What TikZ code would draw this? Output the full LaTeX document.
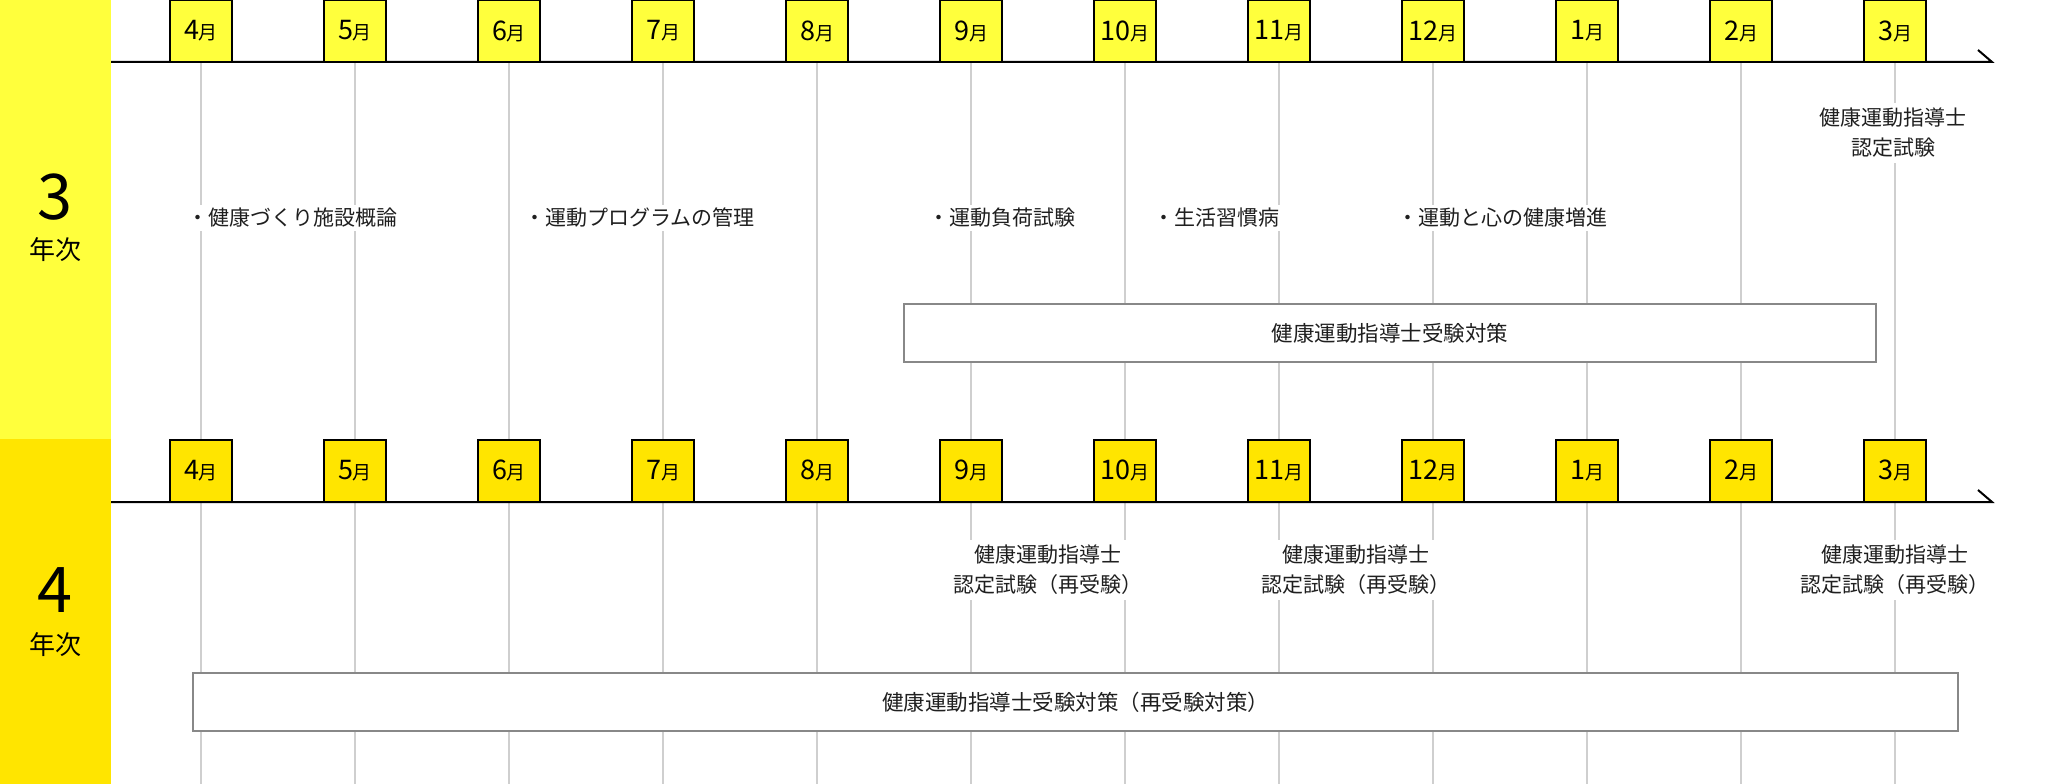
\documentclass[tikz,border=0pt]{standalone}
\usepackage{fontspec}
\setmainfont{Noto Sans CJK JP}
\definecolor{yelA}{HTML}{FFFF3C}
\definecolor{yelB}{HTML}{FFE500}
\definecolor{gridc}{HTML}{CFCFCF}
\definecolor{boxc}{HTML}{888888}
\tikzset{
  monthbox/.style={draw=black, line width=2pt, minimum width=62pt, minimum height=62pt, inner sep=0pt},
  axisline/.style={line width=2pt, black},
  gridline/.style={gridc, line width=1.1pt},
  lbl/.style={fill=white, inner sep=5pt, font=\fontsize{21}{30}\selectfont, align=center, text=black!88},
  planbox/.style={draw=boxc, line width=2pt, fill=white, inner sep=0pt, font=\fontsize{21.5}{24}\selectfont, text=black!88},
  yearnum/.style={font=\fontsize{63}{63}\selectfont, inner sep=0pt},
  yeartxt/.style={font=\fontsize{26}{26}\selectfont, inner sep=0pt}
}
\newcommand{\mlabel}[1]{{\fontsize{27}{27}\selectfont #1}{\fontsize{19}{19}\selectfont 月}}
\begin{document}
\begin{tikzpicture}[x=1pt,y=-1pt]
\useasboundingbox (0,0) rectangle (2072,784);
% left bands
\fill[yelA] (0,0) rectangle (111,439);
\fill[yelB] (0,439) rectangle (111,784);
\node[yearnum] (y3) at (55,197) {3};
\node[yeartxt] (y3t) at (55,250) {年次};
\node[yearnum] (y4) at (55,590) {4};
\node[yeartxt] (y4t) at (55,645) {年次};
% grid lines
\foreach \k in {0,...,11}{
  \coordinate (ga\k) at ({201+154*\k},62);
  \coordinate (gb\k) at ({201+154*\k},439);
  \coordinate (gc\k) at ({201+154*\k},502);
  \coordinate (gd\k) at ({201+154*\k},784);
  \draw[gridline] (ga\k) -- (gb\k);
  \draw[gridline] (gc\k) -- (gd\k);
}
% axes
\coordinate (a1s) at (111,62); \coordinate (a1e) at (1992,62); \coordinate (a1t) at (1978,50);
\coordinate (a2s) at (111,502); \coordinate (a2e) at (1992,502); \coordinate (a2t) at (1978,490);
\draw[axisline] (a1s) -- (a1e) -- (a1t);
\draw[axisline] (a2s) -- (a2e) -- (a2t);
% month boxes
\foreach \m [count=\i from 0] in {4,5,6,7,8,9,10,11,12,1,2,3}{
  \node[monthbox, fill=yelA] (ma\i) at ({201+154*\i},31) {\mlabel{\m}};
  \node[monthbox, fill=yelB] (mb\i) at ({201+154*\i},470.5) {\mlabel{\m}};
}
% row 1 labels
\node[lbl, anchor=west, inner sep=3pt] (l1) at (184,218) {・健康づくり施設概論};
\node[lbl, anchor=west, inner sep=3pt] (l2) at (521,218) {・運動プログラムの管理};
\node[lbl, anchor=west, inner sep=3pt] (l3) at (925,218) {・運動負荷試験};
\node[lbl, anchor=west, inner sep=3pt] (l4) at (1150,218) {・生活習慣病};
\node[lbl, anchor=west, inner sep=3pt] (l5) at (1394,218) {・運動と心の健康増進};
\node[lbl] (l6) at (1893,133) {健康運動指導士\\認定試験};
\node[planbox, minimum width=972pt, minimum height=58pt] (p1) at (1390,333) {健康運動指導士受験対策};
% row 2 labels
\node[lbl] (r1) at (1048,570) {健康運動指導士\\認定試験（再受験）};
\node[lbl] (r2) at (1356,570) {健康運動指導士\\認定試験（再受験）};
\node[lbl] (r3) at (1895,570) {健康運動指導士\\認定試験（再受験）};
\node[planbox, minimum width=1765pt, minimum height=58pt] (p2) at (1075.5,702) {健康運動指導士受験対策（再受験対策）};
\end{tikzpicture}
\end{document}
